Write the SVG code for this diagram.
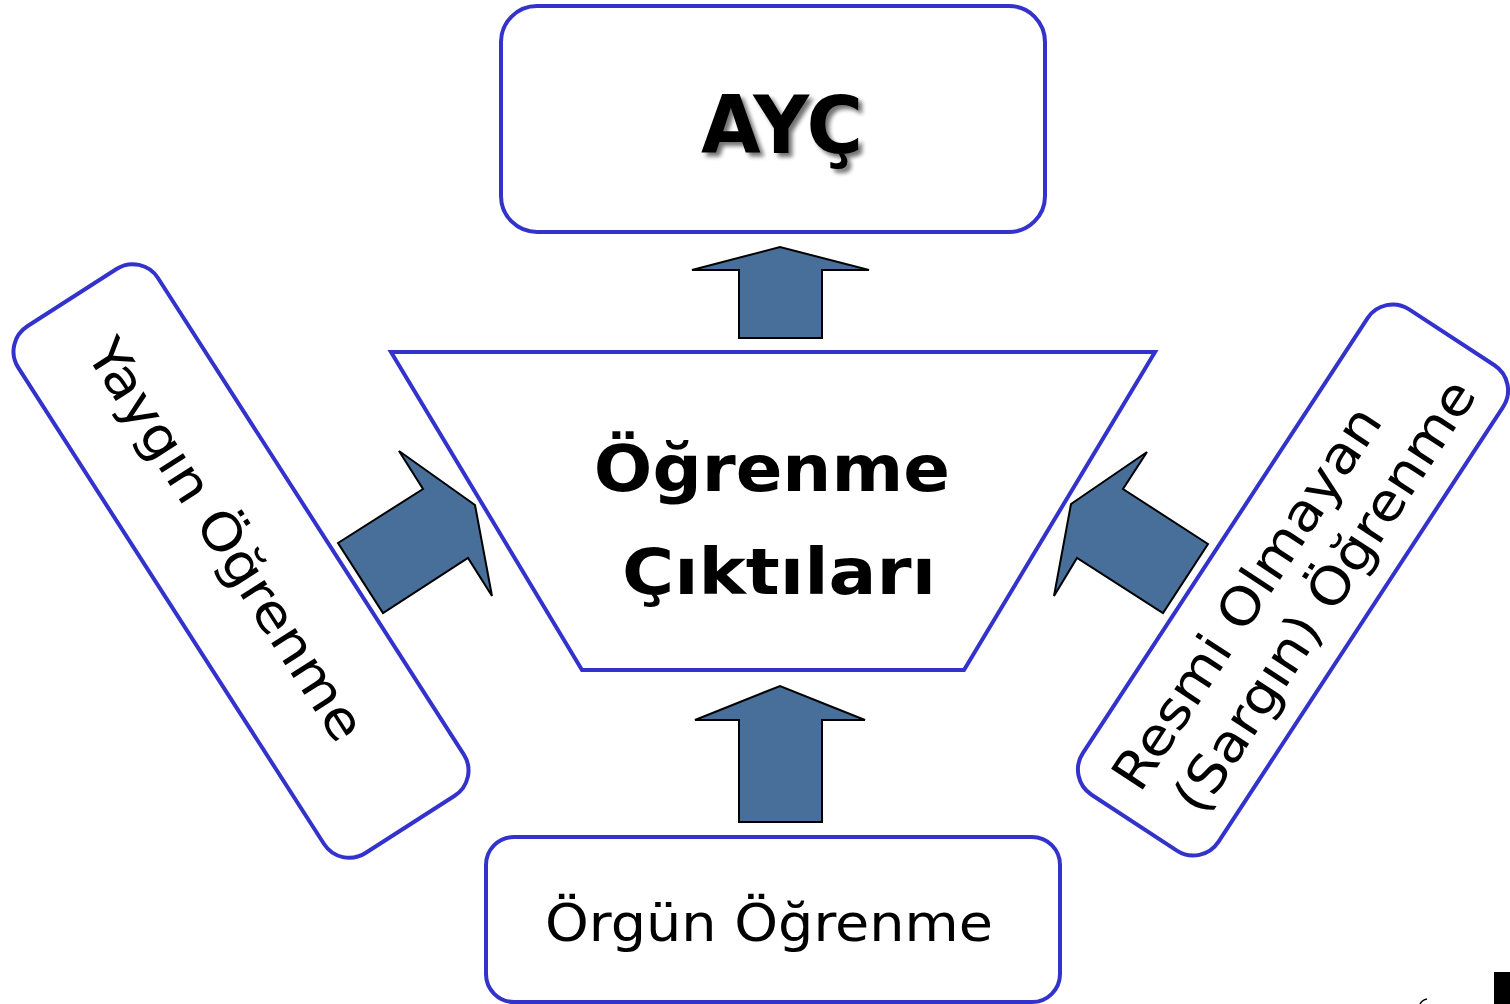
<svg xmlns="http://www.w3.org/2000/svg" width="1510" height="1004" viewBox="0 0 1510 1004">
  <style>
    .box { fill: #ffffff; stroke: #3333cc; stroke-width: 4; }
    .arrow { fill: #476f99; stroke: #000000; stroke-width: 2; stroke-linejoin: miter; }
    .lbl { font-family: "DejaVu Sans", "Liberation Sans", sans-serif; font-size: 52px; fill: #000000; }
    .bold { font-family: "DejaVu Sans", "Liberation Sans", sans-serif; font-weight: bold; fill: #000000; }
  </style>
  <defs>
    <filter id="shadow" x="-20%" y="-20%" width="140%" height="140%">
      <feGaussianBlur in="SourceAlpha" stdDeviation="2.2" result="b"/>
      <feOffset in="b" dx="4" dy="4" result="o"/>
      <feComponentTransfer in="o" result="s">
        <feFuncA type="linear" slope="0.55"/>
      </feComponentTransfer>
      <feMerge>
        <feMergeNode in="s"/>
        <feMergeNode in="SourceGraphic"/>
      </feMerge>
    </filter>
  </defs>
  <rect width="1510" height="1004" fill="#ffffff"/>

  <g id="node-ayc">
    <rect class="box" x="501" y="6" width="544" height="226" rx="36" ry="36"/>
    <text class="bold" x="782" y="153" font-size="80" text-anchor="middle" textLength="162" lengthAdjust="spacingAndGlyphs" filter="url(#shadow)">AYÇ</text>
  </g>

  <g id="node-ciktilar">
    <polygon class="box" points="391,352 1155,352 964,670 582,670"/>
    <text class="bold" font-size="64" text-anchor="middle">
      <tspan x="783" y="491" textLength="356" lengthAdjust="spacingAndGlyphs">Öğrenme</tspan>
      <tspan x="779" y="594" textLength="314" lengthAdjust="spacingAndGlyphs">Çıktıları</tspan>
    </text>
  </g>

  <g id="node-yaygin" transform="translate(241,561) rotate(57.3)">
    <rect class="box" x="-313" y="-83" width="626" height="166" rx="30" ry="30"/>
    <text class="lbl" x="-26" y="19" text-anchor="middle" textLength="466" lengthAdjust="spacingAndGlyphs">Yaygın Öğrenme</text>
  </g>

  <g id="node-resmi" transform="translate(1293,580) rotate(-56.8)">
    <rect class="box" x="-290" y="-81" width="580" height="162" rx="30" ry="30"/>
    <text class="lbl" text-anchor="middle">
      <tspan x="-32" y="-11" textLength="446" lengthAdjust="spacingAndGlyphs">Resmi Olmayan</tspan>
      <tspan x="4" y="53" textLength="505" lengthAdjust="spacingAndGlyphs">(Sargın) Öğrenme</tspan>
    </text>
  </g>

  <g id="node-orgun">
    <rect class="box" x="486" y="837" width="574" height="165" rx="28" ry="28"/>
    <text class="lbl" x="769" y="941" text-anchor="middle" textLength="448" lengthAdjust="spacingAndGlyphs">Örgün Öğrenme</text>
  </g>

  <g id="connectors">
    <polygon class="arrow" points="739,338 739,270 692,270 780,247 869,270 822,270 822,338"/>
    <polygon class="arrow" points="739,822 739,720 695,720 780,686 865,720 822,720 822,822"/>
    <polygon class="arrow" points="338,543 423,489 399,451 475,505 492,596 468,558 383,613"/>
    <polygon class="arrow" points="1208,544 1123,489 1147,452 1071,504 1054,596 1077,558 1163,613"/>
  </g>

  <rect x="1494" y="972" width="16" height="32" fill="#000000"/>
  <path d="M1420,1004 Q1422,1000 1427,999" fill="none" stroke="#000000" stroke-width="1.5"/>
</svg>
